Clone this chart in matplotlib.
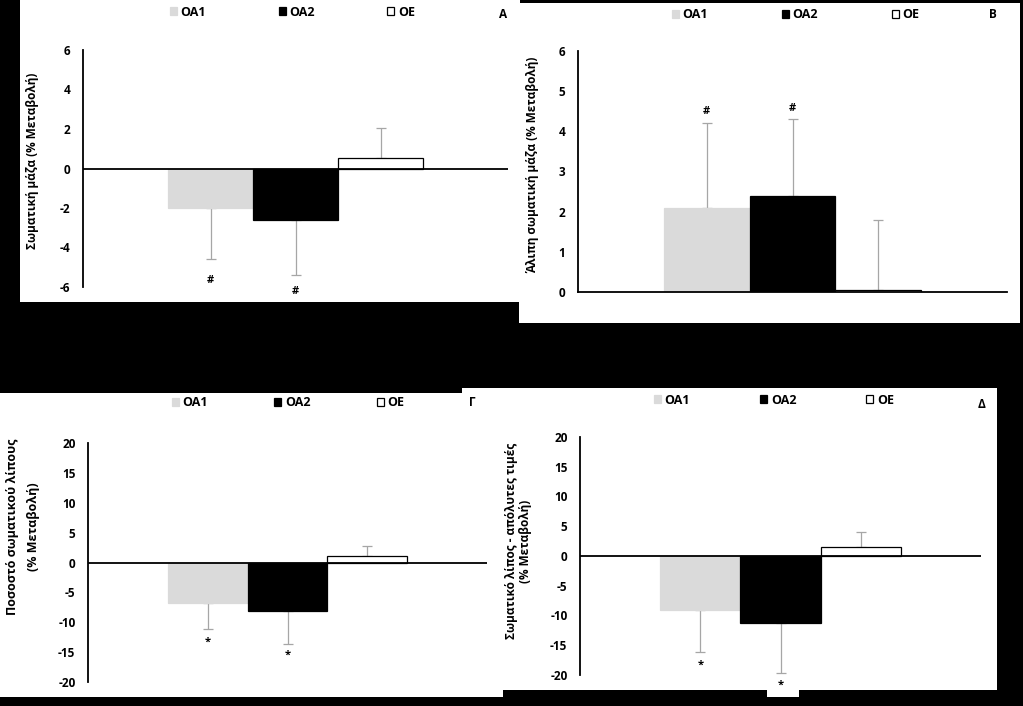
import numpy as np
import matplotlib
matplotlib.use("Agg")
import matplotlib.pyplot as plt
from matplotlib.patches import Rectangle

plt.rcParams['font.family'] = ['Open Sans', 'DejaVu Sans']
plt.rcParams['font.weight'] = 'bold'
plt.rcParams['axes.unicode_minus'] = False

# groups and bar colours
groups = ['ΟΑ1', 'ΟΑ2', 'ΟΕ']
colors = ['#dadada', '#000000', '#ffffff']
edges = ['#dadada', '#000000', '#000000']

# panel A: body mass (% change)
mass_mean = [-2.0, -2.6, 0.55]
mass_err = [2.6, 2.8, 1.5]
mass_sig = ['#', '#', '']
mass_sig_y = [-5.67, -6.23, 0]

# panel B: lean body mass (% change)
lean_mean = [2.1, 2.4, 0.05]
lean_err = [2.1, 1.9, 1.75]
lean_sig = ['#', '#', '']
lean_sig_y = [4.5, 4.58, 0]

# panel C: body fat percentage (% change)
fatpct_mean = [-6.8, -8.1, 1.1]
fatpct_err = [4.3, 5.6, 1.7]
fatpct_sig = ['*', '*', '']
fatpct_sig_y = [-13.3, -15.6, 0]

# panel D: body fat absolute (% change)
fatabs_mean = [-9.1, -11.3, 1.5]
fatabs_err = [7.0, 8.4, 2.5]
fatabs_sig = ['*', '*', '']
fatabs_sig_y = [-18.3, -21.7, 0]

W, H = 1023, 706
fig = plt.figure(figsize=(W / 100, H / 100), dpi=100, facecolor='black')


def fx(x):
    return x / W


def fy(y):
    return 1 - y / H


def white_box(x0, y0, x1, y1):
    r = Rectangle((fx(x0), fy(y1)), fx(x1 - x0), (y1 - y0) / H,
                  transform=fig.transFigure, facecolor='white',
                  edgecolor='none', zorder=-1)
    fig.patches.append(r)


# white backgrounds of the four pasted charts (D under C)
white_box(20, 0, 520, 302)
white_box(519, 3, 1020, 323)
white_box(462, 388, 997, 690)
white_box(767, 688, 799, 697)
white_box(0, 393, 503, 697)


def panel(box, mean, err, sig, sig_y, ylim, yticks, legend_x, legend_y,
          colspace, letter, letter_xy, zero_bottom):
    x0, y0, x1, y1 = box
    ax = fig.add_axes([fx(x0), fy(y1), fx(x1 - x0), (y1 - y0) / H])
    ax.set_facecolor('none')
    x = np.arange(3) - 1
    lower = [e if m < 0 else 0 for m, e in zip(mean, err)]
    upper = [e if m >= 0 else 0 for m, e in zip(mean, err)]
    ax.errorbar(x, mean, yerr=[lower, upper], fmt='none', ecolor='#a6a6a6',
                elinewidth=0.9, capsize=3.5, capthick=0.9, zorder=1)
    bars = ax.bar(x, mean, width=1.0, color=colors, edgecolor=edges,
                  linewidth=0.9, zorder=2)
    for xi, s, sy in zip(x, sig, sig_y):
        if s:
            ax.text(xi, sy, s, ha='center', va='center', fontsize=8,
                    fontweight='bold', clip_on=False)
    ax.set_xlim(-2.5, 2.5)
    ax.set_ylim(*ylim)
    ax.set_yticks(yticks)
    ax.set_xticks([])
    ax.tick_params(axis='y', length=0, pad=9, labelsize=8.5)
    for s in ['top', 'right', 'bottom']:
        ax.spines[s].set_visible(False)
    ax.spines['left'].set_linewidth(1.3)
    if zero_bottom:
        ax.spines['bottom'].set_visible(True)
        ax.spines['bottom'].set_linewidth(1.3)
    else:
        ax.axhline(0, color='black', lw=1.3, zorder=3)
    ax.legend(handles=list(bars), labels=groups, loc='center left',
              bbox_to_anchor=(fx(legend_x), fy(legend_y)),
              bbox_transform=fig.transFigure, ncol=3, frameon=False,
              handlelength=0.55, handleheight=0.55, handletextpad=0.3,
              columnspacing=colspace, borderpad=0, borderaxespad=0,
              prop={'size': 9, 'weight': 'bold'})
    fig.text(fx(letter_xy[0]), fy(letter_xy[1]), letter, ha='center',
             va='center', fontsize=8.5, fontweight='bold')
    return ax


panel((83, 50, 508, 287), mass_mean, mass_err, mass_sig, mass_sig_y,
      (-6, 6), np.arange(-6, 7, 2), 170, 12, 5.8, 'Α', (503, 14), False)
panel((578, 51, 1007, 292), lean_mean, lean_err, lean_sig, lean_sig_y,
      (0, 6), np.arange(0, 7, 1), 672, 15, 5.9, 'Β', (993, 14), True)
panel((580, 437, 981, 675), fatabs_mean, fatabs_err, fatabs_sig, fatabs_sig_y,
      (-20, 20), np.arange(-20, 21, 5), 654, 400, 5.6, 'Δ', (982, 405), False)
panel((88, 443, 487, 682), fatpct_mean, fatpct_err, fatpct_sig, fatpct_sig_y,
      (-20, 20), np.arange(-20, 21, 5), 172, 403, 5.3, 'Γ', (472, 403), False)

# y axis titles
fig.text(fx(33), fy(161), 'Σωματική μάζα (% Μεταβολή)', rotation=90,
         ha='center', va='center', fontsize=8.5, fontweight='bold')
fig.text(fx(533), fy(165), 'Άλιπη σωματική μάζα (% Μεταβολή)', rotation=90,
         ha='center', va='center', fontsize=8.5, fontweight='bold')
fig.text(fx(13), fy(527), 'Ποσοστό σωματικού λίπους', rotation=90,
         ha='center', va='center', fontsize=9, fontweight='bold')
fig.text(fx(33), fy(527), '(% Μεταβολή)', rotation=90,
         ha='center', va='center', fontsize=9, fontweight='bold')
fig.text(fx(512), fy(541), 'Σωματικό λίπος - απόλυτες τιμές', rotation=90,
         ha='center', va='center', fontsize=8.5, fontweight='bold')
fig.text(fx(525), fy(541), '(% Μεταβολή)', rotation=90,
         ha='center', va='center', fontsize=8.5, fontweight='bold')

fig.savefig('out.png', dpi=100, facecolor='black')
